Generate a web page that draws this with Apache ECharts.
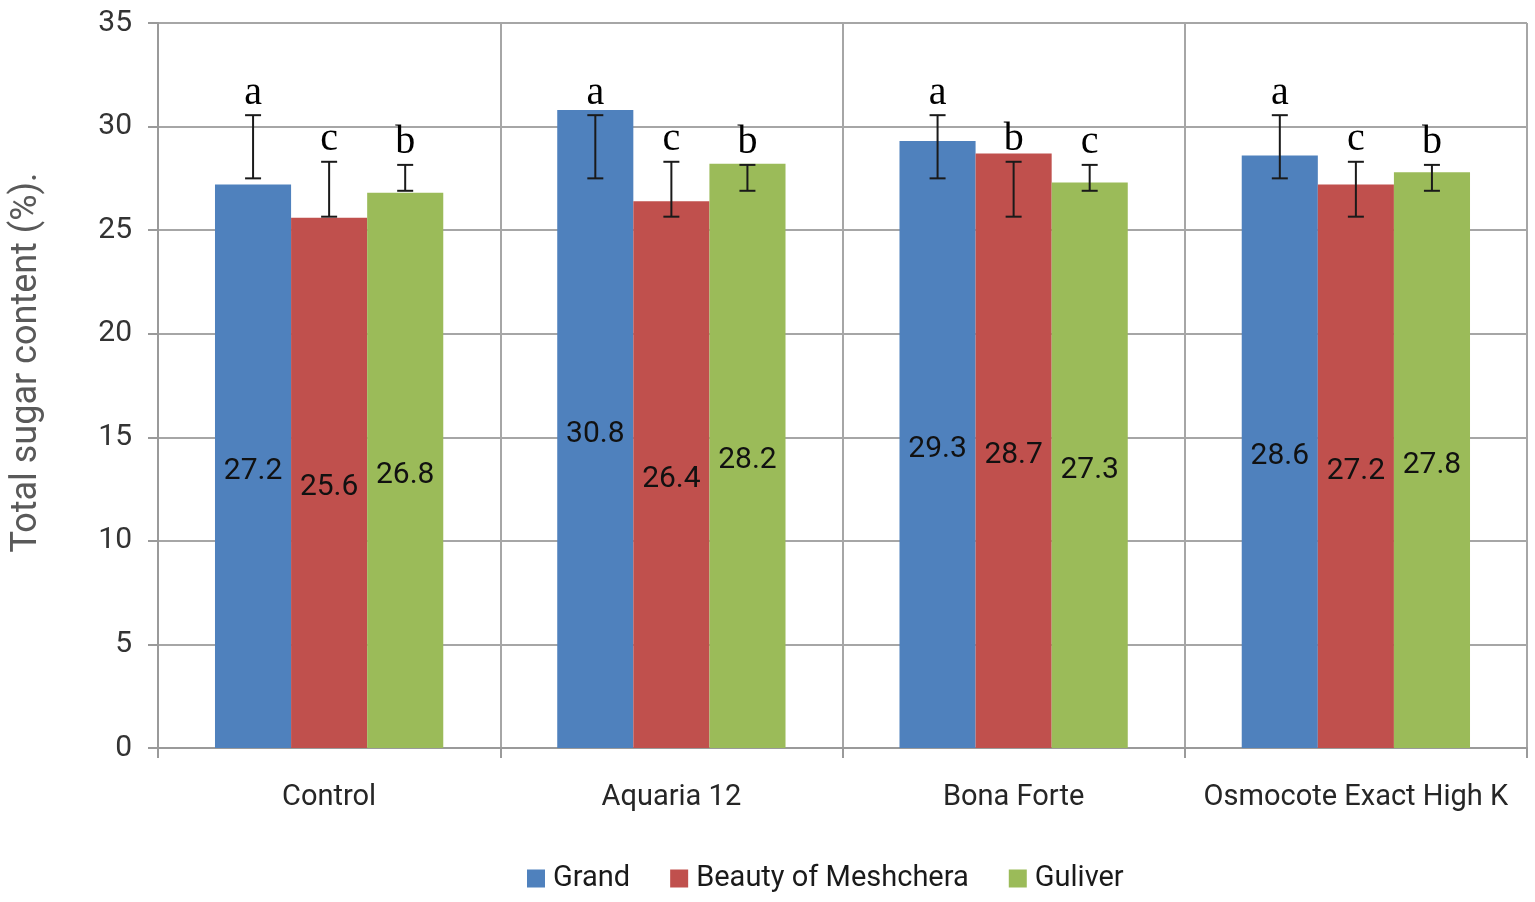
<!DOCTYPE html>
<html><head><meta charset="utf-8">
<script src="https://cdn.jsdelivr.net/npm/echarts@6/dist/echarts.min.js"></script>
<style>html,body{margin:0;padding:0;background:#fff}#c{width:1535px;height:902px}</style>
</head><body><div id="c"></div>
<script>
var categories = ['Control', 'Aquaria 12', 'Bona Forte', 'Osmocote Exact High K'];
var seriesNames = ['Grand', 'Beauty of Meshchera', 'Guliver'];
var grandValues = [27.2, 30.8, 29.3, 28.6];
var beautyValues = [25.6, 26.4, 28.7, 27.2];
var guliverValues = [26.8, 28.2, 27.3, 27.8];
var grandErrLow = [27.5, 27.5, 27.5, 27.5];
var grandErrHigh = [30.55, 30.55, 30.55, 30.55];
var beautyErrLow = [25.65, 25.65, 25.65, 25.65];
var beautyErrHigh = [28.3, 28.3, 28.3, 28.3];
var guliverErrLow = [26.9, 26.9, 26.9, 26.9];
var guliverErrHigh = [28.15, 28.15, 28.15, 28.15];
var grandLetters = ['a', 'a', 'a', 'a'];
var beautyLetters = ['c', 'c', 'b', 'c'];
var guliverLetters = ['b', 'b', 'c', 'b'];
var yTicks = [0, 5, 10, 15, 20, 25, 30, 35];

var colors = ['#4f81bd', '#c0504d', '#9bbb59'];
var FONT = 'Roboto';
var chart = echarts.init(document.getElementById('c'));
var barGapRatio = 1/3;

function errSeries(idx, lows, highs, letters) {
  var data = categories.map(function (c, i) { return [i, lows[i], highs[i]]; });
  return {
    type: 'custom', z: 10, silent: true,
    data: data,
    encode: { x: 0, y: [1, 2] },
    renderItem: function (params, api) {
      var ci = api.value(0);
      var band = api.size([1, 0])[0];
      var bw = band * (1 - barGapRatio) / 3;
      var lo = api.coord([ci, api.value(1)]);
      var hi = api.coord([ci, api.value(2)]);
      var x = lo[0] + (idx - 1) * bw;
      var cap = 8;
      var st = { stroke: '#1a1a1a', lineWidth: 2 };
      return { type: 'group', children: [
        { type: 'line', shape: { x1: x, y1: lo[1], x2: x, y2: hi[1] }, style: st },
        { type: 'line', shape: { x1: x - cap, y1: lo[1], x2: x + cap, y2: lo[1] }, style: st },
        { type: 'line', shape: { x1: x - cap, y1: hi[1], x2: x + cap, y2: hi[1] }, style: st },
        { type: 'text', style: { text: letters[params.dataIndex], x: x, y: hi[1] - 2,
          textAlign: 'center', textVerticalAlign: 'bottom',
          font: '40px "Liberation Serif", serif', fill: '#000' } }
      ] };
    }
  };
}

function barSeries(idx, vals) {
  return {
    name: seriesNames[idx], type: 'bar', data: vals, barGap: '0%', barCategoryGap: '33.3%',
    itemStyle: { color: colors[idx] },
    label: { show: true, position: 'inside', offset: [0, 5], color: '#111', fontSize: 30, fontFamily: FONT,
      formatter: function (p) { return p.value.toFixed(1); } }
  };
}

chart.setOption({
  animation: false,
  color: colors,
  grid: { left: 158, right: 8, top: 23, bottom: 154 },
  legend: {
    data: seriesNames, bottom: 4, left: 522, itemWidth: 18, itemHeight: 18, itemGap: 40,
    icon: 'rect', textStyle: { fontSize: 29, fontFamily: FONT, color: '#1a1a1a', padding: [0, 0, 0, 3] }
  },
  xAxis: {
    type: 'category', data: categories,
    axisLine: { lineStyle: { color: '#9a9a9a', width: 2 } },
    axisTick: { show: true, length: 10, interval: 0, lineStyle: { color: '#9a9a9a', width: 2 } },
    axisLabel: { fontSize: 29, fontFamily: FONT, color: '#262626', margin: 35, interval: 0 },
    splitLine: { show: true, interval: 0, lineStyle: { color: '#a6a6a6', width: 2 } }
  },
  yAxis: {
    type: 'value', min: 0, max: 35, interval: 5,
    name: 'Total sugar content (%).', nameLocation: 'middle', nameGap: 113,
    nameTextStyle: { fontSize: 36, fontFamily: FONT, color: '#595959', padding: [0, 0, 0, 46] },
    axisLine: { show: true, lineStyle: { color: '#9a9a9a', width: 2 } },
    axisTick: { show: true, length: 10, lineStyle: { color: '#9a9a9a', width: 2 } },
    axisLabel: { fontSize: 30, fontFamily: FONT, color: '#333', margin: 26,
      formatter: function (v) { return yTicks.indexOf(v) >= 0 ? String(v) : ''; } },
    splitLine: { show: true, lineStyle: { color: '#a6a6a6', width: 2 } }
  },
  series: [
    barSeries(0, grandValues), barSeries(1, beautyValues), barSeries(2, guliverValues),
    errSeries(0, grandErrLow, grandErrHigh, grandLetters),
    errSeries(1, beautyErrLow, beautyErrHigh, beautyLetters),
    errSeries(2, guliverErrLow, guliverErrHigh, guliverLetters)
  ]
});
</script></body></html>
